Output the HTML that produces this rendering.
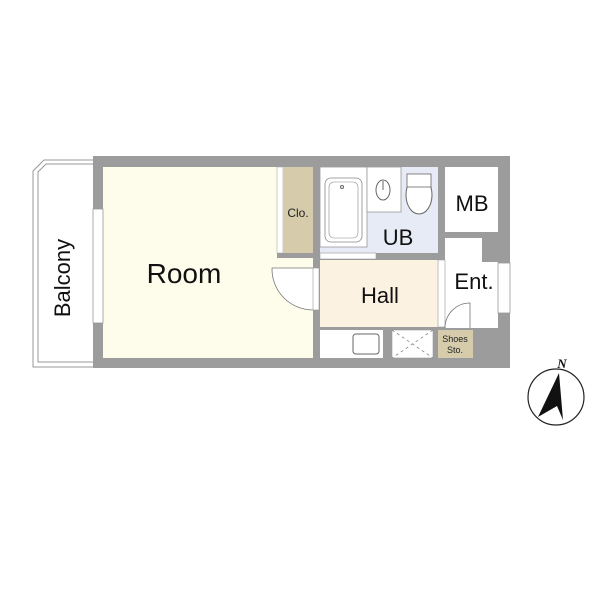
<!DOCTYPE html>
<html><head><style>body{margin:0;background:#fff}svg{display:block}</style></head>
<body>
<svg width="600" height="600" xmlns="http://www.w3.org/2000/svg" font-family="Liberation Sans, sans-serif">
<rect width="600" height="600" fill="#fff"/>
<!-- balcony -->
<path d="M93,160 L44,160 L33,171 L33,367 L93,367" fill="#fff" stroke="#999" stroke-width="1"/>
<path d="M93,164 L46,164 L38,172 L38,362 L93,362" fill="none" stroke="#999" stroke-width="1"/>
<text transform="translate(70,278) rotate(-90)" text-anchor="middle" font-size="22" fill="#111">Balcony</text>
<!-- walls -->
<rect x="93" y="156" width="417" height="212" fill="#9c9c9c"/>
<!-- room -->
<rect x="103" y="167" width="210" height="191" fill="#fefdec"/>
<rect x="93" y="209" width="10" height="114" fill="#fff" stroke="#999" stroke-width="0.8"/>
<rect x="277" y="167" width="6" height="86" fill="#fff" stroke="#aaa" stroke-width="0.6"/>
<rect x="283" y="167" width="30" height="86" fill="#d6ccab"/>
<rect x="277" y="253" width="36" height="5" fill="#9c9c9c"/>
<text x="298" y="217" text-anchor="middle" font-size="12" fill="#222">Clo.</text>
<text x="184" y="283" text-anchor="middle" font-size="28" fill="#111">Room</text>
<!-- door -->
<path d="M313,268 L272,268 A41,41 0 0 0 313,310" fill="#fff" stroke="#777" stroke-width="0.8"/>
<rect x="313" y="268" width="6" height="42" fill="#fff" stroke="#999" stroke-width="0.6"/>
<!-- UB -->
<rect x="320" y="167" width="118" height="86" fill="#e6ebf5"/>
<rect x="320" y="167" width="47" height="80" fill="#fff" stroke="#999" stroke-width="0.8"/>
<rect x="325" y="178" width="37" height="64" rx="6" fill="#fff" stroke="#888" stroke-width="0.8"/>
<rect x="329" y="182" width="29" height="56" rx="5" fill="none" stroke="#888" stroke-width="0.6"/>
<circle cx="342" cy="187" r="1.5" fill="none" stroke="#666"/>
<rect x="367" y="167" width="34" height="45" fill="#fff" stroke="#999" stroke-width="0.8"/>
<ellipse cx="383" cy="190" rx="7" ry="10" fill="#fff" stroke="#666"/>
<line x1="383" y1="181" x2="383" y2="190" stroke="#666"/>
<ellipse cx="419" cy="195" rx="13" ry="19" fill="#fff" stroke="#666"/>
<rect x="407" y="174" width="24" height="13" fill="#fff" stroke="#666" stroke-width="0.8"/>
<text x="398" y="245" text-anchor="middle" font-size="22" fill="#111">UB</text>
<rect x="320" y="253" width="56" height="6" fill="#fff" stroke="#999" stroke-width="0.6"/>
<!-- Hall -->
<rect x="320" y="260" width="118" height="67" fill="#fcf2e2"/>
<text x="380" y="303" text-anchor="middle" font-size="22" fill="#111">Hall</text>
<!-- bottom row -->
<rect x="320" y="330" width="63" height="28" fill="#fff"/>
<rect x="353" y="334" width="26" height="20" rx="3" fill="#fff" stroke="#666"/>
<rect x="392" y="330" width="41" height="28" fill="#fff" stroke="#999" stroke-width="0.6"/>
<path d="M392,330 L433,358 M433,330 L392,358" stroke="#888" stroke-dasharray="3,3" stroke-width="0.8"/>
<rect x="438" y="330" width="35" height="28" fill="#d6ccab"/>
<text x="455" y="342" text-anchor="middle" font-size="9" fill="#222">Shoes</text>
<text x="455" y="353" text-anchor="middle" font-size="9" fill="#222">Sto.</text>
<!-- MB -->
<rect x="445" y="167" width="53" height="65" fill="#fff"/>
<text x="472" y="211" text-anchor="middle" font-size="22" fill="#111">MB</text>
<!-- Ent -->
<path d="M445,238 L482,238 L482,262 L498,262 L498,328 L445,328 Z" fill="#fff"/>
<rect x="438" y="260" width="7" height="67" fill="#fff" stroke="#999" stroke-width="0.6"/>
<rect x="498" y="263" width="12" height="50" fill="#fff" stroke="#999" stroke-width="0.8"/>
<path d="M470,328 L470,303 A25,25 0 0 0 445,328" fill="none" stroke="#777" stroke-width="0.8"/>
<text x="474" y="289" text-anchor="middle" font-size="22" fill="#111">Ent.</text>
<!-- compass -->
<circle cx="556" cy="397" r="28" fill="#fff" stroke="#222" stroke-width="1.2"/>
<path d="M559,373 L538,417 L557,406 L563,420 Z" fill="#111"/>
<text x="562" y="368" text-anchor="middle" font-size="13" font-style="italic" font-weight="bold" font-family="Liberation Serif, serif" fill="#111">N</text>
</svg>
</body></html>
